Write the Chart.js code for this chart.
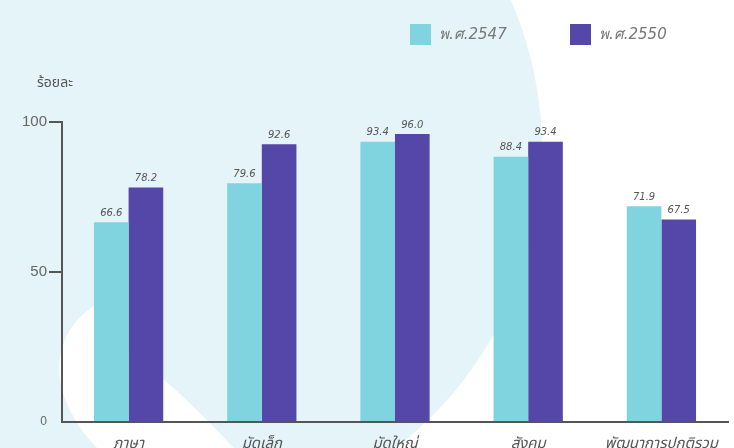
<!DOCTYPE html>
<html>
<head>
<meta charset="utf-8">
<script src="https://cdn.jsdelivr.net/npm/chart.js@4/dist/chart.umd.min.js"></script>
<style>
  html, body { margin: 0; padding: 0; background: #fff; overflow: hidden; }
  #wrap { width: 734px; height: 470px; }
</style>
</head>
<body>
<div id="wrap"><canvas id="grafico"></canvas></div>
<script>
// categorias e valores
const categorias = ['ภาษา', 'มัดเล็ก', 'มัดใหญ่', 'สังคม', 'พัฒนาการปกติรวม'];
const ano2547 = [66.6, 79.6, 93.4, 88.4, 71.9];
const ano2550 = [78.2, 92.6, 96.0, 93.4, 67.5];
const rotulos = ['พ.ศ.2547', 'พ.ศ.2550'];
const tituloY = 'ร้อยละ';

const corClara = '#7fd4df';
const corEscura = '#5447a7';
const fonteThai = '"Noto Sans Thai", "Loma", "Garuda", "DejaVu Sans", sans-serif';

// fundo azul claro com curvas brancas
const fundo = {
  id: 'fundo',
  beforeDraw(chart) {
    const c = chart.ctx;
    c.save();
    c.fillStyle = '#ffffff';
    c.fillRect(0, 0, chart.width, chart.height);
    c.fillStyle = '#e4f4f8';
    c.beginPath();
    c.arc(165, 150, 377, 0, Math.PI * 2);
    c.fill();
    // crescente branco em baixo à esquerda
    c.fillStyle = '#ffffff';
    c.beginPath();
    c.moveTo(95, 305);
    c.quadraticCurveTo(50, 335, 62, 390);
    c.quadraticCurveTo(74, 430, 110, 460);
    c.lineTo(245, 460);
    c.quadraticCurveTo(190, 400, 150, 368);
    c.quadraticCurveTo(110, 335, 95, 305);
    c.fill();
    c.restore();
  }
};

// textos extra: legenda, título do eixo e valores
const extras = {
  id: 'extras',
  afterDatasetsDraw(chart) {
    const c = chart.ctx;
    const area = chart.chartArea;
    c.save();
    // valores sobre as barras
    c.font = 'italic 10px "DejaVu Sans", sans-serif';
    c.fillStyle = '#555';
    c.textAlign = 'center';
    c.textBaseline = 'bottom';
    chart.data.datasets.forEach((ds, i) => {
      chart.getDatasetMeta(i).data.forEach((bar, j) => {
        c.fillText(ds.data[j].toFixed(1), bar.x, bar.y - 4);
      });
    });
    // título do eixo Y
    c.font = '14px ' + fonteThai;
    c.fillStyle = '#555';
    c.textAlign = 'left';
    c.textBaseline = 'middle';
    c.fillText(tituloY, area.left - 25, area.top - 38);
    // legenda
    const posX = [410, 570];
    c.font = 'italic 15px "DejaVu Sans", sans-serif';
    chart.data.datasets.forEach((ds, i) => {
      c.fillStyle = ds.backgroundColor;
      c.fillRect(posX[i], 24, 21, 21);
      c.fillStyle = '#777';
      c.fillText(ds.label, posX[i] + 29, 35);
    });
    c.restore();
  }
};

const ctx = document.getElementById('grafico').getContext('2d');
new Chart(ctx, {
  type: 'bar',
  data: {
    labels: categorias,
    datasets: [
      { label: rotulos[0], data: ano2547, backgroundColor: corClara },
      { label: rotulos[1], data: ano2550, backgroundColor: corEscura }
    ]
  },
  options: {
    responsive: true,
    maintainAspectRatio: false,
    animation: false,
    layout: { padding: { top: 122, right: 6, left: 0, bottom: 0 } },
    datasets: {
      bar: { barPercentage: 1, categoryPercentage: 0.52 }
    },
    scales: {
      x: {
        afterFit(s) { s.height = 48; },
        grid: { display: false },
        border: { color: '#555', width: 2 },
        ticks: {
          color: '#555',
          padding: 6,
          font: { family: fonteThai, size: 15, style: 'italic' }
        }
      },
      y: {
        min: 0,
        max: 100,
        afterFit(s) { s.width = 62; },
        border: { color: '#555', width: 2 },
        grid: {
          drawOnChartArea: false,
          tickLength: 13,
          lineWidth: 2,
          color: (c) => c.tick && c.tick.value === 0 ? 'rgba(0,0,0,0)' : '#555'
        },
        ticks: {
          stepSize: 50,
          color: '#666',
          padding: 2,
          font: (c) => ({
            family: '"Liberation Sans", Arial, sans-serif',
            size: c.tick && c.tick.value === 0 ? 12 : 15
          })
        }
      }
    },
    plugins: {
      legend: { display: false },
      tooltip: { enabled: false }
    }
  },
  plugins: [fundo, extras]
});
</script>
</body>
</html>
